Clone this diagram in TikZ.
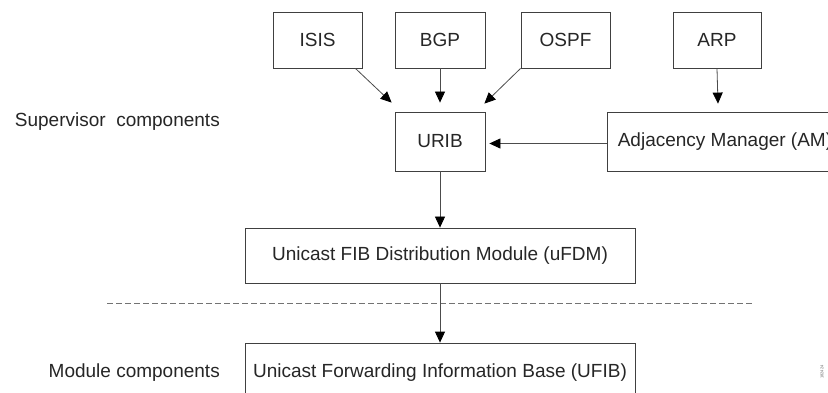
\documentclass[tikz,border=0pt]{standalone}
\usepackage{fontspec}
\setmainfont{Liberation Sans}
\usetikzlibrary{arrows.meta}
\begin{document}
\begin{tikzpicture}[x=1pt,y=-1pt,
  box/.style={draw=black!75,line width=0.8pt,rectangle,inner sep=0pt,
    font=\fontsize{19}{22}\selectfont,text=black!85},
  lbl/.style={inner sep=0pt,font=\fontsize{19}{22}\selectfont,text=black!85},
  arr/.style={draw=black!70,line width=0.8pt,-{Triangle[length=11pt,width=10pt,fill=black,color=black]}},
  sep/.style={draw=black!55,line width=0.8pt,dash pattern=on 6pt off 3pt}]
\useasboundingbox (0,0) rectangle (828,393);
\clip (0,0) rectangle (828,393);
\fill[white] (0,0) rectangle (828,393);
% protocol boxes
\node[box,minimum width=89pt,minimum height=56pt] (isis) at (317.5,40) {ISIS};
\node[box,minimum width=90pt,minimum height=56pt] (bgp) at (440,40) {BGP};
\node[box,minimum width=89pt,minimum height=56pt] (ospf) at (565.5,40) {OSPF};
\node[box,minimum width=88pt,minimum height=56pt] (arp) at (717,40) {ARP};
% supervisor boxes
\node[box,minimum width=90pt,minimum height=59pt] (urib) at (440,141.5) {URIB};
\node[box,minimum width=236pt,minimum height=59pt] (am) at (725,141.5) {Adjacency Manager (AM)};
\node[box,minimum width=390pt,minimum height=55pt] (ufdm) at (440,255.5) {Unicast FIB Distribution Module (uFDM)};
\node[box,minimum width=390pt,minimum height=60pt] (ufib) at (440,373) {Unicast Forwarding Information Base (UFIB)};
% side labels
\node[lbl,anchor=east] (sup) at (220,122) {Supervisor~~components};
\node[lbl,anchor=east] (mod) at (220,373) {Module components};
\node[inner sep=0pt,font=\fontsize{4}{5}\selectfont,text=black!60,rotate=90] (figid) at (822,372) {182424};
% separator
\coordinate (sepL) at (107,303);
\coordinate (sepR) at (754,303);
\draw[sep] (sepL) -- (sepR);
% connectors
\draw[arr] ([xshift=-7pt]isis.south east) -- ([xshift=-3pt,yshift=9pt]urib.north west);
\draw[arr] (bgp.south) -- ([yshift=9pt]urib.north);
\draw[arr] (ospf.south west) -- ([xshift=-1pt,yshift=8pt]urib.north east);
\draw[arr] (arp.south) -- ([xshift=1pt,yshift=8pt]am.north -| arp.south);
\draw[arr] ([yshift=-2pt]am.west) -- ([xshift=4pt,yshift=-2pt]urib.east);
\draw[arr] (urib.south) -- (ufdm.north);
\draw[arr] (ufdm.south) -- (ufib.north);
\end{tikzpicture}
\end{document}
